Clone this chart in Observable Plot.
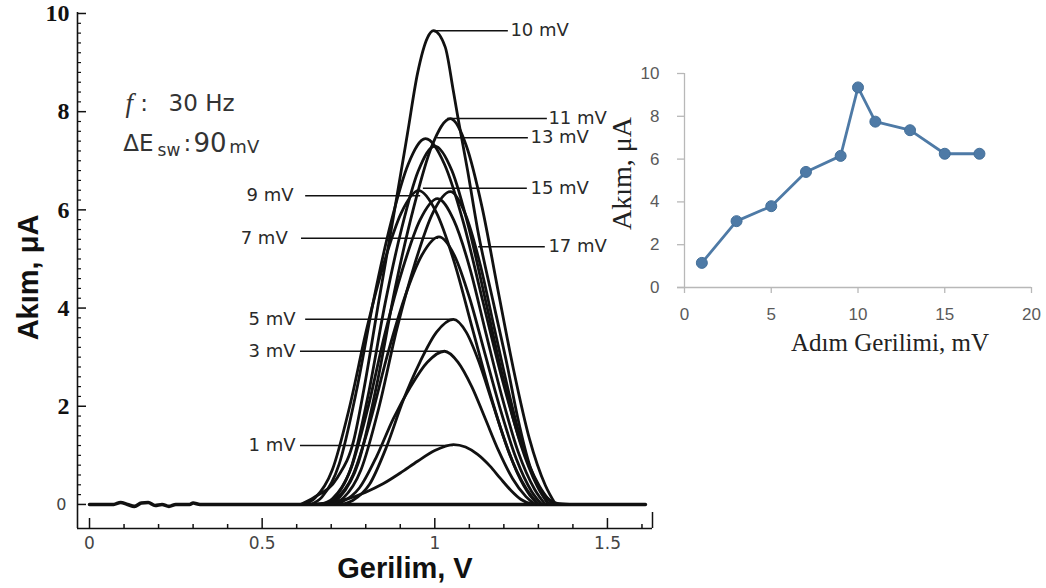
<!DOCTYPE html>
<html><head><meta charset="utf-8">
<script src="https://cdn.jsdelivr.net/npm/d3@7"></script>
<script src="https://cdn.jsdelivr.net/npm/@observablehq/plot@0.6"></script>
<style>
body{margin:0;background:#fff;}
#wrap{position:relative;width:1046px;height:588px;overflow:hidden;background:#fff;}
#main{position:absolute;left:0;top:0;}
#inset{position:absolute;left:600px;top:40px;}
</style></head><body><div id="wrap"><div id="main"></div><div id="inset"></div></div>
<script>
// ---- Inset: peak current vs step potential ----
const stepMV = [1, 3, 5, 7, 9, 10, 11, 13, 15, 17];
const peakCurrent = [1.15, 3.1, 3.8, 5.4, 6.15, 9.35, 7.75, 7.35, 6.25, 6.25];
const insetXTicks = [0, 5, 10, 15, 20];
const insetYTicks = [0, 2, 4, 6, 8, 10];

// ---- Main: voltammograms (Gerilim V, Akım µA) ----
const baseline = [[0,0],[0.07,0],[0.09,0.04],[0.11,0],[0.13,-0.04],[0.15,0.03],[0.17,0.04],[0.19,-0.02],[0.21,0],[0.23,-0.04],[0.25,0],[0.29,0],[0.30,0.03],[0.32,0],[1.61,0]];
const curve1mV = [[0.64,0],[0.70,0.04],[0.75,0.12],[0.80,0.25],[0.85,0.42],[0.90,0.64],[0.95,0.88],[1.00,1.10],[1.054,1.22],[1.089,1.17],[1.124,1.02],[1.16,0.78],[1.19,0.53],[1.22,0.29],[1.25,0.10],[1.28,0.01],[1.30,0]];
const curve3mV = [[0.70,0],[0.733,0.06],[0.782,0.34],[0.831,0.97],[0.880,1.75],[0.930,2.40],[0.979,2.90],[1.028,3.12],[1.067,2.90],[1.107,2.40],[1.146,1.75],[1.185,1.09],[1.225,0.53],[1.264,0.16],[1.29,0]];
const curve5mV = [[0.73,0],[0.762,0.08],[0.811,0.41],[0.860,1.17],[0.908,2.11],[0.957,2.90],[1.005,3.51],[1.054,3.77],[1.091,3.51],[1.128,2.90],[1.165,2.11],[1.202,1.32],[1.239,0.64],[1.275,0.19],[1.30,0]];
const curve7mV = [[0.68,0],[0.713,0.11],[0.763,0.60],[0.813,1.69],[0.863,3.05],[0.912,4.20],[0.962,5.07],[1.012,5.45],[1.057,5.07],[1.101,4.20],[1.146,3.05],[1.191,1.91],[1.236,0.93],[1.280,0.27],[1.31,0]];
const curve9mV = [[0.62,0],[0.653,0.13],[0.703,0.70],[0.753,1.98],[0.803,3.58],[0.853,4.92],[0.903,5.94],[0.953,6.39],[1.005,5.94],[1.057,4.92],[1.109,3.58],[1.161,2.24],[1.213,1.09],[1.265,0.32],[1.30,0]];
const curve10mV = [[0.611,0],[0.649,0.14],[0.718,0.55],[0.765,1.30],[0.794,2.32],[0.838,4.15],[0.880,5.85],[0.921,7.56],[0.950,8.78],[0.979,9.51],[0.996,9.65],[1.03,9.32],[1.054,8.41],[1.069,7.8],[1.095,6.8],[1.124,5.6],[1.170,4.1],[1.211,2.79],[1.240,1.77],[1.277,0.75],[1.315,0.22],[1.355,0.02],[1.39,0]];
const curve11mV = [[0.690,0],[0.726,0.16],[0.779,0.86],[0.832,2.44],[0.885,4.40],[0.939,6.05],[0.992,7.31],[1.045,7.86],[1.091,7.31],[1.137,6.05],[1.182,4.40],[1.228,2.75],[1.274,1.34],[1.320,0.39],[1.350,0]];
const curve12mV = [[0.64,0],[0.673,0.15],[0.723,0.82],[0.773,2.31],[0.823,4.17],[0.873,5.74],[0.923,6.93],[0.973,7.45],[1.028,6.93],[1.083,5.74],[1.138,4.17],[1.193,2.61],[1.248,1.27],[1.303,0.37],[1.34,0]];
const curve13mV = [[0.68,0],[0.712,0.15],[0.76,0.80],[0.808,2.26],[0.856,4.09],[0.904,5.62],[0.952,6.79],[1.0,7.3],[1.05,6.79],[1.099,5.62],[1.149,4.09],[1.198,2.56],[1.248,1.24],[1.297,0.37],[1.33,0]];
const curve15mV = [[0.70,0],[0.735,0.13],[0.786,0.70],[0.838,1.97],[0.890,3.57],[0.942,4.90],[0.993,5.92],[1.045,6.37],[1.088,5.92],[1.131,4.90],[1.173,3.57],[1.216,2.23],[1.259,1.08],[1.302,0.32],[1.33,0]];
const curve17mV = [[0.67,0],[0.704,0.12],[0.755,0.69],[0.805,1.93],[0.856,3.49],[0.907,4.80],[0.957,5.79],[1.008,6.23],[1.055,5.79],[1.102,4.80],[1.148,3.49],[1.195,2.18],[1.242,1.06],[1.289,0.31],[1.32,0]];

// curve labels
const labelText = ["10 mV","11 mV","13 mV","15 mV","17 mV","9 mV","7 mV","5 mV","3 mV","1 mV"];
const labelY    = [9.65, 7.86, 7.47, 6.44, 5.25, 6.29, 5.42, 3.77, 3.12, 1.20];
const labelX1   = [0.996, 1.037, 1.008, 0.967, 1.127, 0.626, 0.614, 0.626, 0.611, 0.611];
const labelX2   = [1.213, 1.326, 1.271, 1.268, 1.320, 0.959, 1.011, 1.054, 1.031, 1.054];
const labelTX   = [1.219, 1.329, 1.277, 1.277, 1.329, 0.591, 0.574, 0.597, 0.597, 0.597];

// axis ticks
const xMajorTicks = [0, 0.5, 1, 1.5];
const xTickLabels = ["0", "0.5", "1", "1.5"];
const xMinorTicks = [0.1,0.2,0.3,0.4,0.6,0.7,0.8,0.9,1.1,1.2,1.3,1.4,1.6];
const yMajorTicks = [2, 4, 6, 8, 10];
const yZeroTick = [0];
const yMinorTicks = d3.range(1, 50).map(i => +(i * 0.2).toFixed(1)).filter(v => Math.abs(v / 2 - Math.round(v / 2)) > 1e-6);

// build tables
const curves = [
  ["base", baseline], ["1", curve1mV], ["3", curve3mV], ["5", curve5mV], ["7", curve7mV],
  ["9", curve9mV], ["10", curve10mV], ["11", curve11mV], ["12", curve12mV], ["13", curve13mV],
  ["15", curve15mV], ["17", curve17mV]
];
const lineRows = curves.flatMap(([name, pts]) => pts.map(([x, y]) => ({name, x, y})));
const labels = labelText.map((t, i) => ({t, y: labelY[i], x1: labelX1[i], x2: labelX2[i], tx: labelTX[i], anchor: labelTX[i] > 1 ? "start" : "end"}));
const insetRows = stepMV.map((s, i) => ({s, c: peakCurrent[i]}));

const X0 = -0.0348, X1 = 1.6305, Y0 = -0.49, Y1 = 10.02;
const PW = 1046 - 77 - 394, PH = 588 - 12 - 60;
const sans = "DejaVu Sans";

const main = Plot.plot({
  width: 1046, height: 588,
  marginLeft: 77, marginRight: 394, marginTop: 12, marginBottom: 60,
  x: {domain: [X0, X1]},
  y: {domain: [Y0, Y1]},
  style: {background: "white", overflow: "visible"},
  marks: [
    // curves
    Plot.line(lineRows.filter(d => d.name === "base"), {x: "x", y: "y", stroke: "#111", strokeWidth: 3.6, curve: "monotone-x"}),
    Plot.line(lineRows.filter(d => d.name !== "base"), {x: "x", y: "y", z: "name", stroke: "#111", strokeWidth: 2.8, curve: "monotone-x"}),
    // label leader lines and texts
    Plot.ruleY(labels, {y: "y", x1: "x1", x2: "x2", stroke: "#111", strokeWidth: 1.5}),
    Plot.text(labels.filter(d => d.anchor === "start"), {x: "tx", y: "y", text: "t", textAnchor: "start", fontSize: 18, fontFamily: sans, fill: "#2a2a2a"}),
    Plot.text(labels.filter(d => d.anchor === "end"), {x: "tx", y: "y", text: "t", textAnchor: "end", fontSize: 18, fontFamily: sans, fill: "#2a2a2a"}),
    // axis lines
    Plot.ruleY([Y0], {stroke: "#111", strokeWidth: 1.6}),
    Plot.ruleX([X0], {stroke: "#111", strokeWidth: 1.6}),
    // x ticks (inward)
    Plot.ruleX(xMajorTicks, {stroke: "#111", strokeWidth: 1.5, insetTop: PH - 10}),
    Plot.ruleX(xMinorTicks, {stroke: "#111", strokeWidth: 1.5, insetTop: PH - 4}),
    Plot.ruleX([X1], {stroke: "#111", strokeWidth: 1.5, insetTop: PH - 16}),
    // y ticks (inward)
    Plot.ruleY([...yZeroTick, ...yMajorTicks], {stroke: "#111", strokeWidth: 1.5, insetRight: PW - 9}),
    Plot.ruleY(yMinorTicks, {stroke: "#111", strokeWidth: 1.2, insetRight: PW - 4}),
    // tick labels
    Plot.axisX({ticks: xMajorTicks, tickFormat: (d, i) => xTickLabels[i], tickSize: 0, tickPadding: 8, fontSize: 17, fontFamily: sans, color: "#444", label: null}),
    Plot.axisY({ticks: yMajorTicks, tickSize: 0, tickPadding: 8, fontSize: 24, fontFamily: "Liberation Serif", fontWeight: "bold", color: "#111", label: null}),
    Plot.axisY({ticks: yZeroTick, tickSize: 0, tickPadding: 11, fontSize: 16, fontFamily: sans, color: "#444", label: null}),
    // axis titles
    Plot.text(["Gerilim, V"], {frameAnchor: "bottom", lineAnchor: "middle", textAnchor: "middle", dx: 40, dy: 40, fontSize: 29, fontWeight: "bold", fontFamily: "Liberation Sans", fill: "#111"}),
    Plot.text(["Akım, μA"], {frameAnchor: "left", lineAnchor: "middle", textAnchor: "middle", rotate: -90, dx: -49, dy: 7, fontSize: 29, fontWeight: "bold", fontFamily: "Liberation Sans", fill: "#111"}),
    // experiment notes
    Plot.text(["f"], {x: () => 0.104, y: () => 8.17, textAnchor: "start", fontSize: 27, fontStyle: "italic", fontFamily: "Liberation Serif", fill: "#333"}),
    Plot.text([":"], {x: () => 0.147, y: () => 8.17, textAnchor: "start", fontSize: 23, fontFamily: sans, fill: "#333"}),
    Plot.text(["30 Hz"], {x: () => 0.229, y: () => 8.17, textAnchor: "start", fontSize: 23, fontFamily: sans, fill: "#333"}),
    Plot.text(["ΔE"], {x: () => 0.098, y: () => 7.35, textAnchor: "start", fontSize: 23, fontFamily: sans, fill: "#333"}),
    Plot.text(["sw"], {x: () => 0.197, y: () => 7.21, textAnchor: "start", fontSize: 17, fontFamily: sans, fill: "#333"}),
    Plot.text([":"], {x: () => 0.272, y: () => 7.35, textAnchor: "start", fontSize: 23, fontFamily: sans, fill: "#333"}),
    Plot.text(["90"], {x: () => 0.301, y: () => 7.35, textAnchor: "start", fontSize: 26, fontFamily: sans, fill: "#333"}),
    Plot.text(["mV"], {x: () => 0.405, y: () => 7.27, textAnchor: "start", fontSize: 18, fontFamily: sans, fill: "#333"})
  ]
});
document.getElementById("main").appendChild(main);

// ---- inset ----
const IW = 446, IH = 340, IML = 84, IMR = 15, IMT = 33, IMB = 93;
const IPW = IW - IML - IMR, IPH = IH - IMT - IMB;
const blue = "#4e7aa6";
const inset = Plot.plot({
  width: IW, height: IH,
  marginLeft: IML, marginRight: IMR, marginTop: IMT, marginBottom: IMB,
  x: {domain: [0, 20]},
  y: {domain: [0, 10]},
  style: {background: "transparent", overflow: "visible"},
  marks: [
    Plot.ruleY([0], {stroke: "#b8b8b8", strokeWidth: 1.3, insetLeft: -7}),
    Plot.ruleX([0], {stroke: "#b8b8b8", strokeWidth: 1.3}),
    Plot.ruleX(insetXTicks, {stroke: "#b8b8b8", strokeWidth: 1.3, insetTop: IPH, insetBottom: -6}),
    Plot.ruleY(insetYTicks, {stroke: "#b8b8b8", strokeWidth: 1.3, insetLeft: -7, insetRight: IPW}),
    Plot.axisX({ticks: insetXTicks, tickSize: 0, tickPadding: 20, fontSize: 17, fontFamily: "Liberation Sans", color: "#5a5a5a", label: null}),
    Plot.axisY({ticks: insetYTicks, tickSize: 0, tickPadding: 25, fontSize: 17, fontFamily: "Liberation Sans", color: "#5a5a5a", label: null}),
    Plot.line(insetRows, {x: "s", y: "c", stroke: blue, strokeWidth: 2.8}),
    Plot.dot(insetRows, {x: "s", y: "c", r: 5.5, fill: blue, stroke: "#44709a", strokeWidth: 1}),
    Plot.text(["Adım Gerilimi, mV"], {frameAnchor: "bottom", lineAnchor: "middle", textAnchor: "middle", dx: 32, dy: 55, fontSize: 25, fontFamily: "Liberation Serif", fill: "#222"}),
    Plot.text(["Akım, μA"], {frameAnchor: "left", lineAnchor: "middle", textAnchor: "middle", rotate: -90, dx: -62, dy: -7, fontSize: 28, fontFamily: "Liberation Serif", fill: "#222"})
  ]
});
document.getElementById("inset").appendChild(inset);
</script></body></html>
